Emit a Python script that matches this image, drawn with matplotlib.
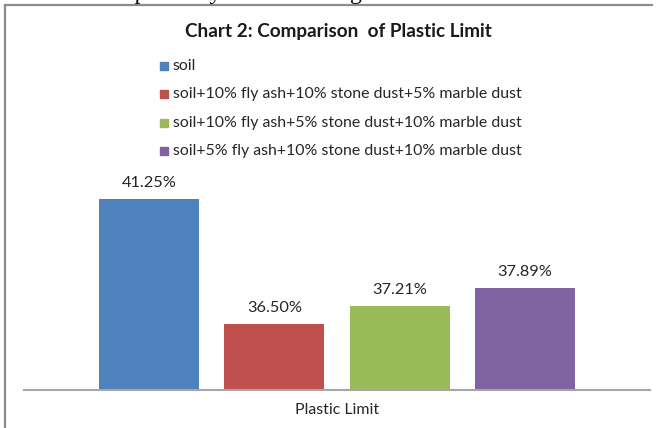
import matplotlib
matplotlib.use('Agg')
import matplotlib.pyplot as plt
from matplotlib.lines import Line2D

# data
series = ['soil',
          'soil+10% fly ash+10% stone dust+5% marble dust',
          'soil+10% fly ash+5% stone dust+10% marble dust',
          'soil+5% fly ash+10% stone dust+10% marble dust']
values = [41.25, 36.50, 37.21, 37.89]
colors = ['#4f81bd', '#c0504d', '#9bbb59', '#8064a2']
category = 'Plastic Limit'

W, H = 661, 428
fig = plt.figure(figsize=(W / 100, H / 100), dpi=100)
plt.rcParams['font.family'] = ['Lato', 'DejaVu Sans']

# outer frame of the chart (only left and top show in the crop)
fig.add_artist(Line2D([5 / W, 5 / W], [0, 1 - 5 / H], color='#8c8c8c', lw=1.6))
fig.add_artist(Line2D([5 / W, 652 / W], [1 - 5 / H, 1 - 5 / H], color='#8c8c8c', lw=1.6))

# cut-off text line of the page above the chart
fig.text(107 / W, 1 + 1 / H, 'respectively', family='Liberation Serif',
         fontsize=17, va='baseline', ha='left', color='black')
fig.text(306 / W, 1 + 1 / H, 'in Figure', family='Liberation Serif',
         fontsize=17, va='baseline', ha='left', color='black')

ax = fig.add_axes([24 / W, (H - 390) / H, 626 / W, 210.5 / H])
x = list(range(len(values)))
ax.bar(x, [v - 34 for v in values], bottom=34, width=0.8, color=colors)
ax.set_xlim(-1, 4)
ax.set_ylim(34, 42)
for s in ['top', 'right', 'left']:
    ax.spines[s].set_visible(False)
ax.spines['bottom'].set_color('#a6a6a6')
ax.spines['bottom'].set_linewidth(1.5)
ax.set_yticks([])
ax.set_xticks([])

for xi, v in zip(x, values):
    ax.annotate('%.2f%%' % v, (xi, v), xytext=(0, 11.5), textcoords='offset points',
                ha='center', va='center', fontsize=11.8, color='#262626')

fig.text(337 / W, 1 - 410 / H, category, ha='center', va='center',
         fontsize=11.4, color='#262626')

fig.text(338 / W, 1 - 32 / H, 'Chart 2: Comparison  of Plastic Limit',
         ha='center', va='center', fontsize=13.6, fontweight='bold', color='#1a1a1a')

# legend
for i, (lab, c) in enumerate(zip(series, colors)):
    yy = 1 - (65.5 + 28.5 * i) / H
    fig.patches.append(plt.Rectangle((160 / W, yy - 4 / H), 8 / W, 8 / H,
                                     transform=fig.transFigure, color=c))
    fig.text(173 / W, yy, lab, ha='left', va='center', fontsize=11.4, color='#262626')

fig.savefig('out.png', dpi=100)
